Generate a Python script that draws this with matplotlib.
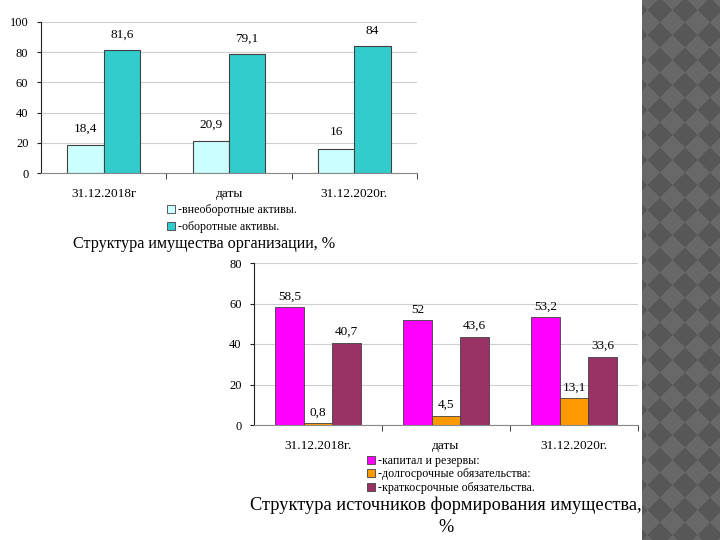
import numpy as np
import matplotlib
matplotlib.use("Agg")
import matplotlib.pyplot as plt
from matplotlib.patches import Patch

plt.rcParams['font.family'] = ['Liberation Serif', 'DejaVu Serif']

# ---- data ----
categories = ["31.12.2018г", "даты", "31.12.2020г."]
assets_noncurrent = [18.4, 20.9, 16]
assets_current = [81.6, 79.1, 84]
assets_labels = ["-внеоборотные активы.", "-оборотные активы."]
assets_title = "Структура имущества организации, %"

categories2 = ["31.12.2018г.", "даты", "31.12.2020г."]
equity = [58.5, 52, 53.2]
longterm = [0.8, 4.5, 13.1]
shortterm = [40.7, 43.6, 33.6]
sources_labels = ["-капитал и резервы:", "-долгосрочные обязательства:", "-краткосрочные обязательства."]
sources_title = "Структура источников формирования имущества,\n%"

W, H = 720, 540
fig = plt.figure(figsize=(7.2, 5.4), dpi=100)
fig.patch.set_facecolor('white')

def fx(px):
    return px / W

def fy(py):
    return 1 - py / H

def fmt(v):
    return ("%g" % v).replace('.', ',')

def style_axes(ax, ymax, ystep):
    ax.set_xlim(-0.5, 2.5)
    ax.set_ylim(0, ymax)
    ax.set_yticks(np.arange(0, ymax + 0.1, ystep))
    ax.yaxis.grid(True, color='#cfcfcf', linewidth=0.8)
    ax.set_axisbelow(True)
    for s in ['top', 'right']:
        ax.spines[s].set_visible(False)
    ax.spines['left'].set_color('#222222')
    ax.spines['bottom'].set_color('#888888')
    ax.spines['left'].set_linewidth(0.8)
    ax.spines['bottom'].set_linewidth(0.8)
    ax.set_xticks([0.5, 1.5, 2.5], minor=True)
    ax.set_xticks([0, 1, 2])
    ax.tick_params(axis='x', which='major', length=0, labelsize=9.5, pad=11)
    ax.tick_params(axis='x', which='minor', length=4, direction='out', color='#222222')
    ax.tick_params(axis='y', length=3, direction='out', labelsize=9, color='#222222', pad=6)

# ---- top chart ----
ax1 = fig.add_axes([fx(41), fy(173), fx(417 - 41), (173 - 22) / H])
x = np.arange(len(categories))
w1 = 0.29
ax1.bar(x - w1 / 2, assets_noncurrent, w1, color='#ccffff', edgecolor='#404040', linewidth=0.8)
ax1.bar(x + w1 / 2, assets_current, w1, color='#33cccc', edgecolor='#404040', linewidth=0.8)
for i in range(len(categories)):
    ax1.text(x[i] - w1 / 2, assets_noncurrent[i] + 7, fmt(assets_noncurrent[i]), ha='center', va='bottom', fontsize=9.5)
    ax1.text(x[i] + w1 / 2, assets_current[i] + 6, fmt(assets_current[i]), ha='center', va='bottom', fontsize=9.5)
style_axes(ax1, 100, 20)
ax1.set_xticklabels(categories)
h1 = [Patch(facecolor='#ccffff', edgecolor='#404040', linewidth=0.6),
      Patch(facecolor='#33cccc', edgecolor='#404040', linewidth=0.6)]
fig.legend(h1, assets_labels, loc='upper left', bbox_to_anchor=(fx(161), fy(198)),
           frameon=False, fontsize=8.6, handlelength=0.65, handleheight=0.65,
           handletextpad=0.3, labelspacing=0.4, borderpad=0)
fig.text(fx(204), fy(244), assets_title, ha='center', va='center', fontsize=11.6)

# ---- bottom chart ----
ax2 = fig.add_axes([fx(254), fy(425), fx(638 - 254), (425 - 263) / H])
w2 = 0.222
ax2.bar(x - w2, equity, w2, color='#ff00ff', edgecolor='#404040', linewidth=0.6)
ax2.bar(x, longterm, w2, color='#ff9900', edgecolor='#404040', linewidth=0.6)
ax2.bar(x + w2, shortterm, w2, color='#993366', edgecolor='#404040', linewidth=0.6)
for i in range(len(categories2)):
    ax2.text(x[i] - w2, equity[i] + 2, fmt(equity[i]), ha='center', va='bottom', fontsize=9.5)
    ax2.text(x[i], longterm[i] + 2.5, fmt(longterm[i]), ha='center', va='bottom', fontsize=9.5)
    ax2.text(x[i] + w2, shortterm[i] + 2.5, fmt(shortterm[i]), ha='center', va='bottom', fontsize=9.5)
style_axes(ax2, 80, 20)
ax2.set_xticklabels(categories2)
h2 = [Patch(facecolor='#ff00ff', edgecolor='#404040', linewidth=0.6),
      Patch(facecolor='#ff9900', edgecolor='#404040', linewidth=0.6),
      Patch(facecolor='#993366', edgecolor='#404040', linewidth=0.6)]
fig.legend(h2, sources_labels, loc='upper left', bbox_to_anchor=(fx(361), fy(449)),
           frameon=False, fontsize=8.6, handlelength=0.65, handleheight=0.65,
           handletextpad=0.3, labelspacing=0.12, borderpad=0)
fig.text(fx(446), fy(516), sources_title, ha='center', va='center', fontsize=13.2,
         linespacing=1.35, multialignment='center')

# ---- decorative strip on the right ----
axd = fig.add_axes([fx(642), 0, fx(720 - 642), 1])
xs = np.arange(642, 720) + 0.5
ys = np.arange(0, 540) + 0.5
XX, YY = np.meshgrid(xs, ys)
D = 25.0
u = np.floor((XX - 660 + YY - 10 + D / 2) / D)
v = np.floor((XX - 660 - (YY - 10) + D / 2) / D)
pat = ((u + v) % 2 == 0)
img = np.where(pat, 0.34, 0.41)
axd.imshow(img, cmap='gray', vmin=0, vmax=1, aspect='auto', interpolation='nearest')
axd.axis('off')

fig.savefig('out.png', dpi=100)
